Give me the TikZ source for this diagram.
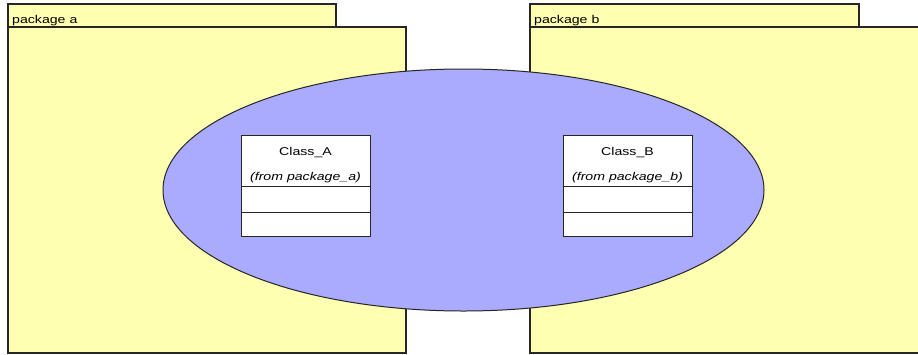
\documentclass[tikz,border=0pt]{standalone}
\usepackage{fontspec}
\setmainfont{Liberation Sans}[FakeStretch=1.25]
\usetikzlibrary{calc,shapes.geometric}
\definecolor{pkgyellow}{RGB}{255,255,178}
\definecolor{ucblue}{RGB}{170,170,255}
\tikzset{
  pkg/.style={draw=black!85,line width=1.1pt,fill=pkgyellow},
  usecase/.style={ellipse,draw=black!85,line width=1pt,fill=ucblue,minimum width=601pt,minimum height=242pt},
  classbox/.style={draw=black!85,line width=0.9pt,fill=white,minimum width=129pt,minimum height=101pt,inner sep=0pt},
  sep/.style={draw=black!85,line width=0.9pt},
}
\begin{document}
\begin{tikzpicture}[x=1pt,y=-1pt]
\useasboundingbox (0,0) rectangle (918,354);
\clip (0,0) rectangle (918,354);
\fontsize{11.3}{13}\selectfont
% packages
\foreach \n/\l/\t/\r in {a/8/336/406,b/530/859/940}{
	\draw[pkg] (\l,27) rectangle (\r,353);
	\draw[pkg] (\l,4) rectangle (\t,27);
	\node[anchor=base west,inner sep=0pt] (tab\n) at (\l+4,23) {package \n};}
% use case
\node[usecase] (uc) at (463.5,190) {};
% classes
\foreach \n/\p/\x in {A/a/305.5,B/b/627.5}{
	\node[classbox] (class\n) at (\x,185.5) {};
	\draw[sep] ($(class\n.north west)+(0,52)$) -- ($(class\n.north east)+(0,52)$);
	\draw[sep] ($(class\n.north west)+(0,78)$) -- ($(class\n.north east)+(0,78)$);
	\node[anchor=base,inner sep=0pt] (name\n) at ($(class\n.north)+(0,21)$) {Class\_\n};
	\node[anchor=base,inner sep=0pt,font=\itshape] (from\n) at ($(class\n.north)+(0,46)$) {(from package\_\p)};}
\end{tikzpicture}
\end{document}
